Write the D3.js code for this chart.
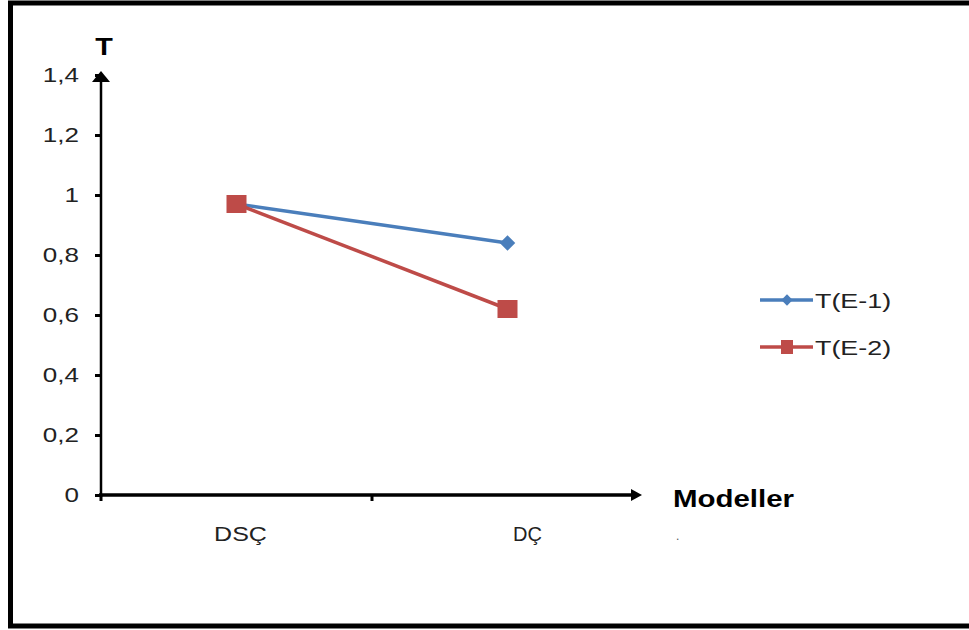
<!DOCTYPE html>
<html><head><meta charset="utf-8">
<script src="https://cdn.jsdelivr.net/npm/d3@7"></script>
<style>body{margin:0;background:#fff}svg{display:block}</style>
</head><body>
<script>
const categories = ["DSÇ", "DÇ"];
const seriesNames = ["T(E-1)", "T(E-2)"];
const valuesE1 = [0.97, 0.84];
const valuesE2 = [0.97, 0.62];
const yTicks = [0, 0.2, 0.4, 0.6, 0.8, 1, 1.2, 1.4];
const colors = ["#4a7ebb", "#be4b48"];

const W = 969, H = 630;
const svg = d3.select("body").append("svg").attr("width", W).attr("height", H);
const font = "Arial, 'Liberation Sans', sans-serif";
function stretch(sel, k) {
  sel.each(function () {
    const L = this.getComputedTextLength();
    this.setAttribute("textLength", L * k);
    this.setAttribute("lengthAdjust", "spacingAndGlyphs");
  });
}

// frame
svg.append("rect").attr("x", 10.5).attr("y", 3).attr("width", 980).attr("height", 623)
  .attr("fill", "none").attr("stroke", "#000").attr("stroke-width", 5);

const x0 = 101, x1 = 643, yTop = 75, yBot = 495;
const y = d3.scaleLinear().domain([0, 1.4]).range([yBot, yTop]);
const x = d3.scaleBand().domain(categories).range([x0, x1]).padding(0);
const cx = d => x(d) + x.bandwidth() / 2;

// y axis
const yAxis = d3.axisLeft(y).tickValues(yTicks).tickSize(6).tickPadding(16)
  .tickFormat(d => d3.format("~g")(d).replace(".", ","));
const gy = svg.append("g").attr("transform", `translate(${x0},0)`).call(yAxis);
gy.select(".domain").remove();
gy.selectAll(".tick line").attr("stroke", "#000").attr("stroke-width", 3);
gy.selectAll(".tick text").attr("font-family", font).attr("font-size", 20).attr("fill", "#222");
stretch(gy.selectAll(".tick text"), 1.3);
svg.append("line").attr("x1", x0).attr("x2", x0).attr("y1", yBot + 2).attr("y2", yTop + 4)
  .attr("stroke", "#000").attr("stroke-width", 2.5);
svg.append("path").attr("d", `M${x0 - 9},${yTop + 7} L${x0},${yTop - 4} L${x0 + 9},${yTop + 7} Z`).attr("fill", "#000");

// x axis
svg.append("line").attr("x1", x0 - 2).attr("x2", x1 - 8).attr("y1", yBot).attr("y2", yBot)
  .attr("stroke", "#000").attr("stroke-width", 3.5);
svg.append("path").attr("d", `M${x1 - 12},${yBot - 6} L${x1 - 1},${yBot} L${x1 - 12},${yBot + 6} Z`).attr("fill", "#000");
svg.append("line").attr("x1", x0 + x.bandwidth()).attr("x2", x0 + x.bandwidth())
  .attr("y1", yBot).attr("y2", yBot + 6).attr("stroke", "#000").attr("stroke-width", 3);
svg.append("line").attr("x1", x0).attr("x2", x0).attr("y1", yBot).attr("y2", yBot + 6).attr("stroke", "#000").attr("stroke-width", 3);
const xl = svg.selectAll(".xlab").data(categories).join("text")
  .attr("x", (d, i) => cx(d) + (i === 0 ? 4 : 20)).attr("y", 541).attr("text-anchor", "middle")
  .attr("font-family", font).attr("font-size", 20).attr("fill", "#222").text(d => d);
stretch(xl.filter((d, i) => i === 0), 1.25);

// axis titles
const tT = svg.append("text").attr("x", 104).attr("y", 55).attr("text-anchor", "middle")
  .attr("font-family", font).attr("font-weight", "bold").attr("font-size", 23).text("T");
stretch(tT, 1.25);
const tM = svg.append("text").attr("x", 673).attr("y", 507)
  .attr("font-family", font).attr("font-weight", "bold").attr("font-size", 23).text("Modeller");
stretch(tM, 1.28);
svg.append("text").attr("x", 676).attr("y", 540).attr("font-family", font).attr("font-size", 12).attr("fill", "#555").text(".");

// series
const series = [valuesE1, valuesE2];
const line = d3.line().x((d, i) => cx(categories[i])).y(d => y(d));
series.forEach((vals, s) => {
  svg.append("path").datum(vals).attr("d", line).attr("fill", "none")
    .attr("stroke", colors[s]).attr("stroke-width", 3.5);
});
// markers: E-1 diamonds, E-2 squares (E-2 drawn on top)
svg.selectAll(".m1").data(valuesE1).join("rect")
  .attr("x", -5.5).attr("y", -5.5).attr("width", 11).attr("height", 11)
  .attr("transform", (d, i) => `translate(${cx(categories[i])},${y(d)}) rotate(45)`).attr("fill", colors[0]);
svg.selectAll(".m2").data(valuesE2).join("rect")
  .attr("x", (d, i) => cx(categories[i]) - 10).attr("y", d => y(d) - 9)
  .attr("width", 20).attr("height", 18).attr("fill", colors[1]);

// legend
const legY = [300, 347];
seriesNames.forEach((n, s) => {
  const g = svg.append("g").attr("transform", `translate(760,${legY[s]})`);
  g.append("line").attr("x1", 0).attr("x2", 53).attr("stroke", colors[s]).attr("stroke-width", 3.5);
  if (s === 0) g.append("rect").attr("x", -4).attr("y", -4).attr("width", 8).attr("height", 8)
    .attr("transform", "translate(27,0) rotate(45)").attr("fill", colors[0]);
  else g.append("rect").attr("x", 21).attr("y", -7).attr("width", 12).attr("height", 14).attr("fill", colors[1]);
  const t = g.append("text").attr("x", 55).attr("y", 7.5).attr("font-family", font).attr("font-size", 21).attr("fill", "#222").text(n);
  stretch(t, 1.28);
});
</script>
</body></html>
